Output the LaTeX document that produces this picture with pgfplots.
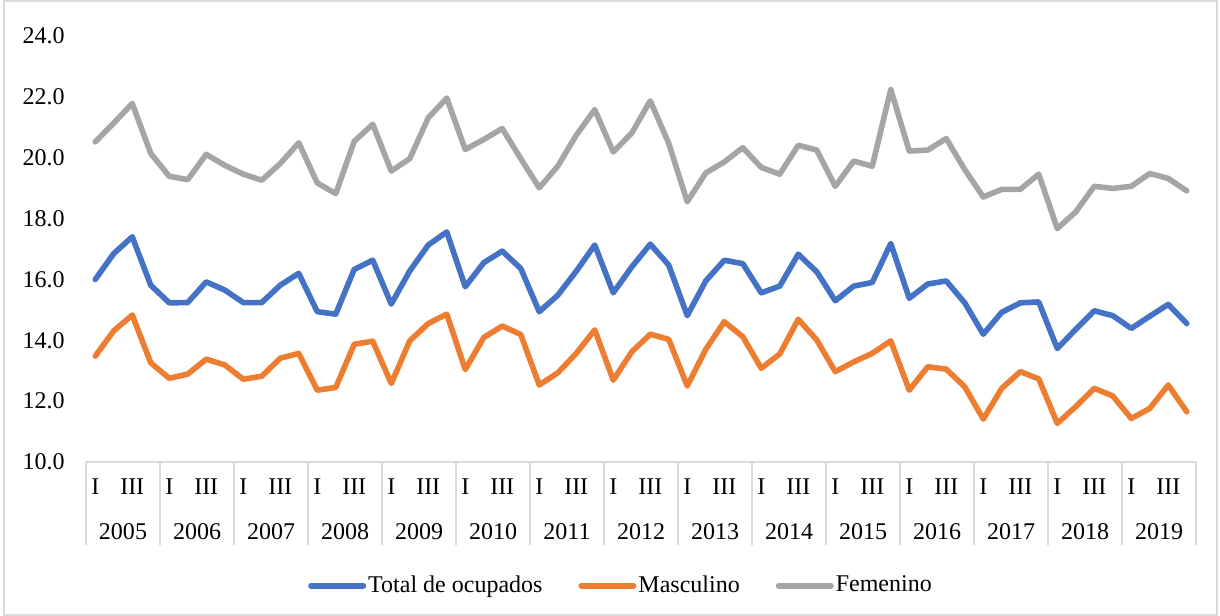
\documentclass[border=0pt]{standalone}
\usepackage{pgfplots}
\pgfplotsset{compat=1.18}
\usepackage{pgfplotstable}
\usepackage{fontspec}
\setmainfont{Liberation Serif}
\definecolor{cblue}{HTML}{4472C4}
\definecolor{corange}{HTML}{ED7D31}
\definecolor{cgray}{HTML}{A5A5A5}
\definecolor{lgray}{HTML}{D9D9D9}
\pgfplotstableread{
i tot mas fem
0 16.00 13.48 20.52
1 16.85 14.31 21.14
2 17.40 14.83 21.78
3 15.81 13.26 20.14
4 15.23 12.75 19.39
5 15.24 12.89 19.28
6 15.92 13.38 20.11
7 15.65 13.19 19.75
8 15.24 12.72 19.46
9 15.24 12.82 19.26
10 15.81 13.41 19.81
11 16.20 13.57 20.49
12 14.94 12.36 19.17
13 14.86 12.45 18.82
14 16.33 13.87 20.54
15 16.63 13.97 21.10
16 15.19 12.58 19.56
17 16.28 13.98 19.97
18 17.13 14.55 21.31
19 17.56 14.86 21.96
20 15.76 13.04 20.27
21 16.55 14.09 20.60
22 16.93 14.47 20.96
23 16.36 14.19 19.97
24 14.94 12.53 19.01
25 15.48 12.93 19.72
26 16.27 13.57 20.74
27 17.13 14.34 21.58
28 15.56 12.69 20.19
29 16.41 13.62 20.81
30 17.16 14.20 21.87
31 16.47 14.03 20.47
32 14.81 12.50 18.55
33 15.95 13.70 19.50
34 16.63 14.61 19.86
35 16.52 14.12 20.33
36 15.56 13.08 19.68
37 15.78 13.55 19.46
38 16.83 14.69 20.41
39 16.25 14.01 20.25
40 15.30 12.97 19.06
41 15.78 13.29 19.89
42 15.90 13.57 19.72
43 17.18 13.98 22.24
44 15.38 12.36 20.22
45 15.85 13.13 20.25
46 15.95 13.05 20.63
47 15.23 12.47 19.61
48 14.20 11.41 18.71
49 14.92 12.42 18.96
50 15.23 12.97 18.96
51 15.26 12.73 19.46
52 13.73 11.27 17.67
53 14.36 11.82 18.22
54 14.97 12.42 19.06
55 14.81 12.17 18.99
56 14.39 11.43 19.06
57 14.79 11.76 19.48
58 15.18 12.53 19.32
59 14.55 11.65 18.91
}\datatable
\begin{document}
\fontsize{12bp}{14bp}\selectfont
\begin{tikzpicture}
\path[use as bounding box] (0,0) rectangle (610bp,308bp);
\draw[lgray, line width=0.75bp] (2bp,0.5bp) rectangle (608.5bp,307.5bp);
\begin{axis}[
  at={(43bp,77bp)}, anchor=south west,
  scale only axis, width=555bp, height=213bp,
  xmin=-0.5, xmax=59.5, ymin=10, ymax=24,
  axis x line*=bottom, axis y line*=left,
  y axis line style={draw=none},
  x axis line style={draw=lgray, line width=0.75bp, -},
  ytick={10,12,...,24},
  yticklabel style={/pgf/number format/fixed, /pgf/number format/fixed zerofill, /pgf/number format/precision=1, /pgf/number format/assume math mode=true, xshift=-6.5bp},
  ytick style={draw=none},
  xtick={0,2,...,58},
  xticklabels={I,III,I,III,I,III,I,III,I,III,I,III,I,III,I,III,I,III,I,III,I,III,I,III,I,III,I,III,I,III},
  xticklabel style={anchor=center, yshift=-12.5bp},
  major tick length=0pt,
  extra x ticks={1.5,5.5,...,57.5},
  extra x tick labels={2005,2006,2007,2008,2009,2010,2011,2012,2013,2014,2015,2016,2017,2018,2019},
  extra x tick style={major tick length=0pt, xticklabel style={yshift=-22.5bp}},
  minor xtick={-0.5,3.5,...,59.5},
  tick align=outside,
  minor tick length=41.5bp,
  minor x tick style={draw=lgray, line width=0.75bp},
  clip=false,
  legend columns=3,
  legend style={at={(0.482,-0.29)}, anchor=center, draw=none, fill=none,
    /tikz/every even column/.append style={column sep=17bp},
    nodes={inner sep=1bp}},
  legend image code/.code={\draw[#1, line width=3bp] (0bp,0bp) -- (26bp,0bp);},
  every axis plot/.append style={line width=2.8bp, line join=round, line cap=round, mark=none},
]
\addplot[cblue] table[x=i, y=tot] {\datatable};
\addplot[corange] table[x=i, y=mas] {\datatable};
\addplot[cgray] table[x=i, y=fem] {\datatable};
\legend{Total de ocupados, Masculino, Femenino}
\end{axis}
\end{tikzpicture}
\end{document}
